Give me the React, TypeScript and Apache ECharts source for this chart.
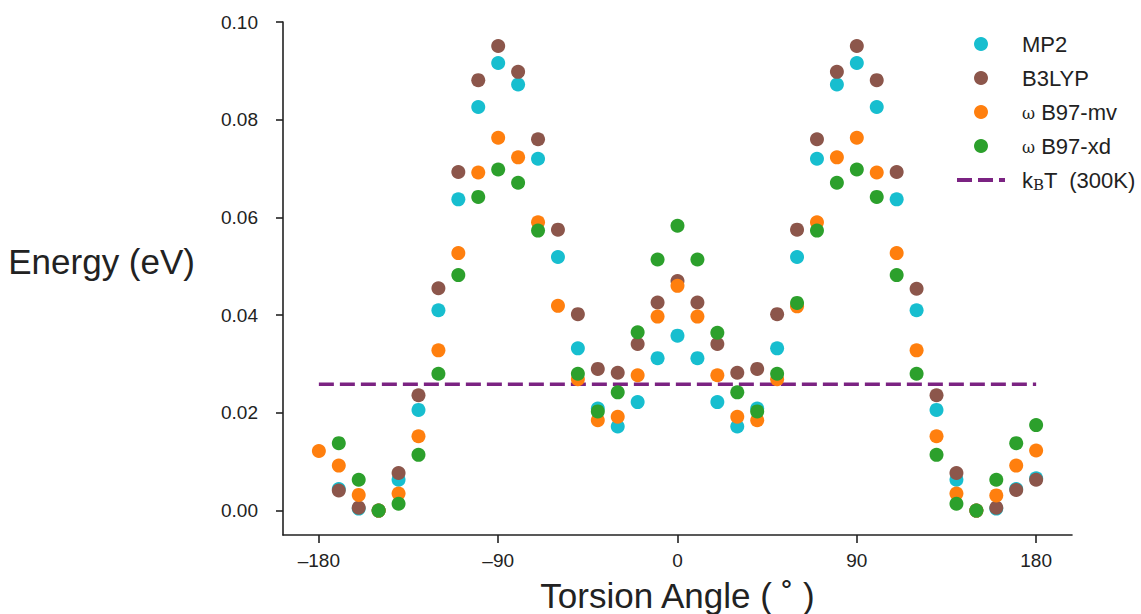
import { useEffect, useRef } from "react";
import * as echarts from "echarts";

// Torsion angles (degrees)
const angles = [
  -180, -170, -160, -150, -140, -130, -120, -110, -100, -90, -80, -70, -60, -50, -40, -30, -20, -10,
  0, 10, 20, 30, 40, 50, 60, 70, 80, 90, 100, 110, 120, 130, 140, 150, 160, 170, 180,
];

// Energies (eV)
const mp2 = [
  null, 0.0044, 0.0004, 0.0, 0.0063, 0.0206, 0.041, 0.0637, 0.0826, 0.0916, 0.0872, 0.072, 0.0519, 0.0332, 0.0209, 0.0172, 0.0222, 0.0312,
  0.0358, 0.0312, 0.0222, 0.0172, 0.0209, 0.0332, 0.0519, 0.072, 0.0872, 0.0916, 0.0826, 0.0637, 0.041, 0.0206, 0.0063, 0.0, 0.0004, 0.0044, 0.0066,
];
const b3lyp = [
  null, 0.0041, 0.0006, 0.0, 0.0077, 0.0236, 0.0455, 0.0693, 0.0881, 0.0951, 0.0898, 0.076, 0.0575, 0.0402, 0.029, 0.0282, 0.0341, 0.0426,
  0.047, 0.0426, 0.0341, 0.0282, 0.029, 0.0402, 0.0575, 0.076, 0.0898, 0.0951, 0.0881, 0.0693, 0.0454, 0.0236, 0.0077, 0.0, 0.0006, 0.0042, 0.0063,
];
const wb97mv = [
  0.0122, 0.0092, 0.0032, 0.0, 0.0035, 0.0152, 0.0328, 0.0527, 0.0692, 0.0763, 0.0723, 0.059, 0.0419, 0.0269, 0.0185, 0.0192, 0.0277, 0.0397,
  0.046, 0.0397, 0.0277, 0.0192, 0.0185, 0.0269, 0.0418, 0.059, 0.0723, 0.0763, 0.0692, 0.0527, 0.0328, 0.0152, 0.0035, 0.0, 0.0031, 0.0092, 0.0123,
];
const wb97xd = [
  null, 0.0138, 0.0063, 0.0, 0.0014, 0.0114, 0.028, 0.0482, 0.0642, 0.0698, 0.0671, 0.0573, null, 0.028, 0.0203, 0.0242, 0.0365, 0.0514,
  0.0583, 0.0514, 0.0364, 0.0242, 0.0203, 0.028, 0.0425, 0.0573, 0.0671, 0.0698, 0.0642, 0.0482, 0.028, 0.0114, 0.0014, 0.0, 0.0063, 0.0138, 0.0175,
];

// k_B T at 300 K (eV) line
const kbtAngles = [-180, 180];
const kbtValue = 0.02585;

const xTicks = [-180, -90, 0, 90, 180];
const yTicks = [0, 0.02, 0.04, 0.06, 0.08, 0.1];

const names = ["MP2", "B3LYP", "ωB97-mv", "ωB97-xd", "kBT (300K)"];
const colors = ["#17becf", "#8c564b", "#ff7f0e", "#2ca02c", "#7b2382"];

const FONT = "Liberation Sans, Arial, Helvetica, sans-serif";
const SERIF = "DejaVu Serif, Liberation Serif, serif";
const INK = "#222222";

function toPairs(vals: (number | null)[]) {
  return angles
    .map((a, i) => [a, vals[i]] as [number, number | null])
    .filter((p) => p[1] !== null);
}

export default function App() {
  const ref = useRef<HTMLDivElement>(null);

  useEffect(() => {
    if (!ref.current) return;
    const chart = echarts.init(ref.current, undefined, { renderer: "svg" });

    const scatter = (name: string, vals: (number | null)[], color: string) => ({
      name,
      type: "scatter",
      data: toPairs(vals),
      symbol: "circle",
      symbolSize: 14,
      itemStyle: { color, opacity: 1 },
      emphasis: { disabled: true },
    });

    const option: any = {
      animation: false,
      textStyle: { fontFamily: FONT },
      grid: { left: 283, right: 69, top: 22, bottom: 79, containLabel: false, outerBoundsMode: "none" },
      legend: {
        orient: "vertical",
        left: 952,
        top: 28,
        itemWidth: 48,
        itemHeight: 14,
        itemGap: 12,
        selectedMode: false,
        data: [
          { name: names[0], icon: "circle" },
          { name: names[1], icon: "circle" },
          { name: names[2], icon: "circle" },
          { name: names[3], icon: "circle" },
          { name: names[4], icon: "path://M0 0H15V4H0Z M21 0H36V4H21Z M42 0H48V4H42Z" },
        ],
        formatter: (n: string) => {
          if (n.startsWith("ω")) return "{w|ω} " + n.slice(1);
          if (n.startsWith("kBT")) return "k{s|B}T  (300K)";
          return n;
        },
        textStyle: {
          fontFamily: FONT,
          fontSize: 22,
          color: INK,
          lineHeight: 22,
          padding: [0, 0, 0, 12],
          rich: {
            w: { fontFamily: SERIF, fontSize: 16, color: INK, padding: [3, 0, 0, 0] },
            s: { fontFamily: SERIF, fontSize: 15, color: INK, padding: [9, 0, 0, 0] },
          },
        },
      },
      xAxis: {
        type: "value",
        min: -198,
        max: 198,
        name: "Torsion Angle ( ˚ )",
        nameLocation: "middle",
        nameGap: 43,
        nameTextStyle: { fontSize: 35, color: INK, fontFamily: FONT },
        axisLine: { show: true, onZero: false, lineStyle: { color: INK, width: 1.6 } },
        axisTick: { show: true, length: 8, customValues: xTicks, lineStyle: { color: INK, width: 1.6 } },
        axisLabel: {
          customValues: xTicks,
          formatter: (v: number) => (v < 0 ? "–" + Math.abs(v) : String(v)),
          fontSize: 19,
          color: INK,
          margin: 16,
          fontFamily: FONT,
        },
        splitLine: { show: false },
      },
      yAxis: {
        type: "value",
        min: -0.005,
        max: 0.1,
        name: "Energy (eV)",
        nameLocation: "middle",
        nameRotate: 0,
        nameGap: 88,
        nameTextStyle: { fontSize: 35, color: INK, fontFamily: FONT, align: "right", verticalAlign: "bottom" },
        axisLine: { show: true, onZero: false, lineStyle: { color: INK, width: 1.6 } },
        axisTick: { show: true, length: 7, customValues: yTicks, lineStyle: { color: INK, width: 1.6 } },
        axisLabel: {
          customValues: yTicks,
          formatter: (v: number) => v.toFixed(2),
          fontSize: 19,
          color: INK,
          margin: 25,
          fontFamily: FONT,
        },
        splitLine: { show: false },
      },
      series: [
        {
          name: names[4],
          type: "line",
          data: kbtAngles.map((a) => [a, kbtValue]),
          symbol: "none",
          itemStyle: { color: colors[4] },
          lineStyle: { color: colors[4], width: 3.5, type: [15, 6] },
          emphasis: { disabled: true },
          z: 1,
        },
        scatter(names[0], mp2, colors[0]),
        scatter(names[1], b3lyp, colors[1]),
        scatter(names[2], wb97mv, colors[2]),
        scatter(names[3], wb97xd, colors[3]),
      ],
    };

    chart.setOption(option);
    return () => chart.dispose();
  }, []);

  return (
    <div
      ref={ref}
      style={{ position: "absolute", left: 0, top: 0, width: 1141, height: 614, background: "#ffffff" }}
    />
  );
}
